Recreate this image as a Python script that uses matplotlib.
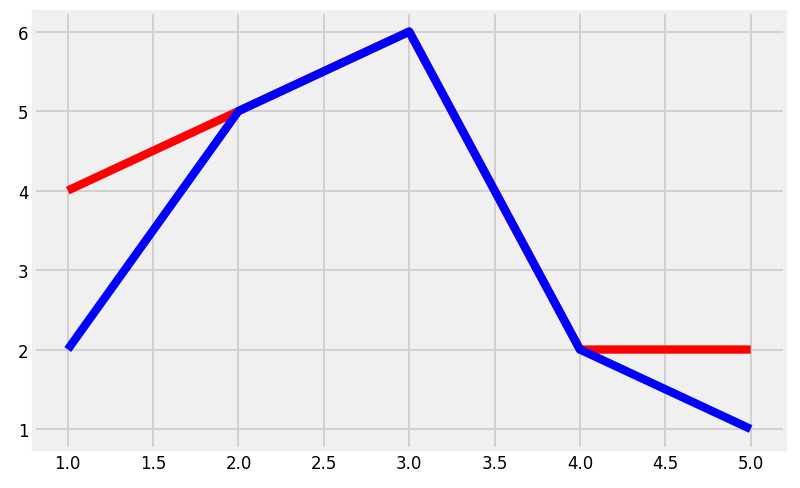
import matplotlib
matplotlib.use("Agg")
import matplotlib.pyplot as plt

x = [1, 2, 3, 4, 5]
red_y = [4, 5, 6, 2, 2]
blue_y = [2, 5, 6, 2, 1]

plt.style.use("fivethirtyeight")
fig, ax = plt.subplots(figsize=(8, 4.89), dpi=100)
fig.patch.set_facecolor("white")
ax.set_facecolor("#f0f0f0")
ax.plot(x, red_y, color="red", linewidth=6)
ax.plot(x, blue_y, color="blue", linewidth=6)
ax.grid(True, color="#cbcbcb", linewidth=1.2)
ax.tick_params(labelsize=12)
fig.subplots_adjust(left=0.042, right=0.981, top=0.974, bottom=0.08)
fig.savefig("out.png", facecolor="white")
